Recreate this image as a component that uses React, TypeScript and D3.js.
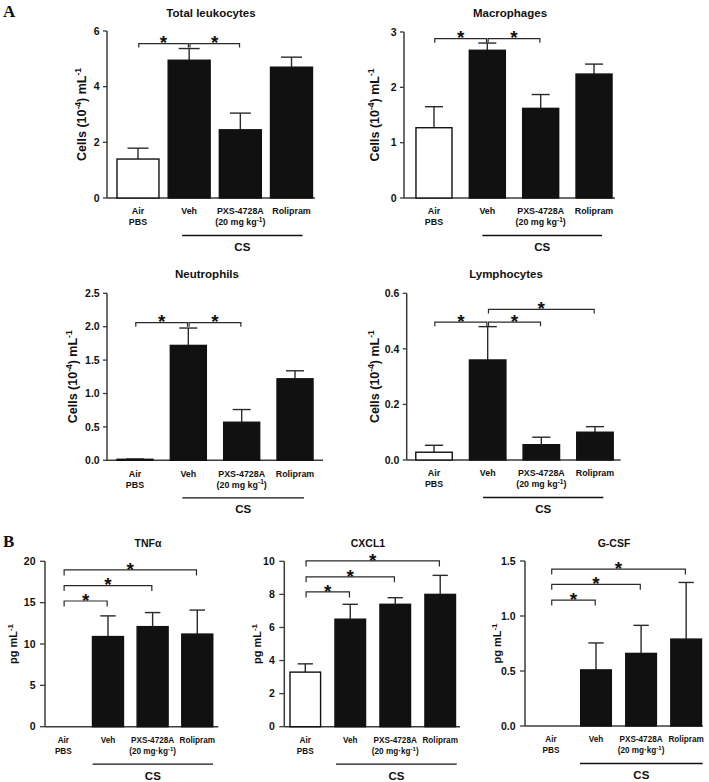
import React from "react";
import * as d3 from "d3";

// ---------- DATA ----------
const categoryKeys = ["Air PBS", "Veh", "PXS-4728A", "Rolipram"];
const categoryLinesA = [["Air", "PBS"], ["Veh"], ["PXS-4728A", "(20 mg kg|-1|)"], ["Rolipram"]];
const categoryLinesB = [["Air", "PBS"], ["Veh"], ["PXS-4728A", "(20 mg·kg|-1|)"], ["Rolipram"]];
const barIsOpen = [true, false, false, false];

const leukocytesMean = [1.4, 4.95, 2.45, 4.7];
const leukocytesSem = [0.39, 0.42, 0.6, 0.36];
const leukocytesTicks = [0, 2, 4, 6];
const leukocytesSig: [number, number, number][] = [[0, 1, 5.55], [1, 2, 5.55]];

const macrophagesMean = [1.27, 2.67, 1.62, 2.24];
const macrophagesSem = [0.38, 0.13, 0.25, 0.18];
const macrophagesTicks = [0, 1, 2, 3];
const macrophagesSig: [number, number, number][] = [[0, 1, 2.88], [1, 2, 2.88]];

const neutrophilsMean = [0.015, 1.72, 0.57, 1.22];
const neutrophilsSem = [0.004, 0.26, 0.19, 0.12];
const neutrophilsTicks = [0, 0.5, 1.0, 1.5, 2.0, 2.5];
const neutrophilsSig: [number, number, number][] = [[0, 1, 2.06], [1, 2, 2.06]];

const lymphocytesMean = [0.028, 0.36, 0.055, 0.1];
const lymphocytesSem = [0.025, 0.12, 0.027, 0.02];
const lymphocytesTicks = [0, 0.2, 0.4, 0.6];
const lymphocytesSig: [number, number, number][] = [[0, 1, 0.496], [1, 2, 0.496], [1, 3, 0.542]];

const tnfMean = [0, 10.9, 12.1, 11.2];
const tnfSem = [0, 2.5, 1.7, 2.9];
const tnfTicks = [0, 5, 10, 15, 20];
const tnfSig: [number, number, number][] = [[0, 1, 15.2], [0, 2, 17.06], [0, 3, 18.96]];

const cxcl1Mean = [3.3, 6.5, 7.4, 8.0];
const cxcl1Sem = [0.5, 0.9, 0.4, 1.15];
const cxcl1Ticks = [0, 2, 4, 6, 8, 10];
const cxcl1Sig: [number, number, number][] = [[0, 1, 8.15], [0, 2, 9.06], [0, 3, 10.02]];

const gcsfMean = [0, 0.51, 0.66, 0.79];
const gcsfSem = [0, 0.245, 0.255, 0.515];
const gcsfTicks = [0, 0.5, 1.0, 1.5];
const gcsfSig: [number, number, number][] = [[0, 1, 1.145], [0, 2, 1.288], [0, 3, 1.427]];

// ---------- LAYOUT ----------
const FONT = "'Liberation Sans', Arial, Helvetica, sans-serif";
const INK = "#111";
const AXIS = "#3c3c3c";

interface Cfg {
  title: string;
  titleX: number;
  titleY: number;
  titleSize: number;
  mean: number[];
  sem: number[];
  ticks: number[];
  fmt: string;
  sig: [number, number, number][];
  axisX: number;
  xEnd: number;
  y0: number;
  y1: number;
  band: [number, number];
  pad: number;
  yLabel: "cells" | "pg";
  yLabelX: number;
  lines: string[][];
  catSize: number;
  tickLen: number;
  tickGap: number;
  csL: number;
  csR: number;
  bracketTick: number;
}

function SupText({ s, size, supSize }: { s: string; size: number; supSize: number }) {
  // segments separated by | ; odd segments are superscripts
  const parts = s.split("|");
  const out: React.ReactNode[] = [];
  let up = false;
  parts.forEach((p, i) => {
    if (p === "") return;
    const isSup = i % 2 === 1;
    let dy = 0;
    if (isSup && !up) { dy = -size * 0.38; up = true; }
    else if (!isSup && up) { dy = size * 0.38; up = false; }
    out.push(
      <tspan key={i} dy={dy} fontSize={isSup ? supSize : size}>{p}</tspan>
    );
  });
  return <>{out}</>;
}

function Panel({ c }: { c: Cfg }) {
  const x = d3.scaleBand<string>().domain(categoryKeys).range(c.band).paddingInner(c.pad).paddingOuter(c.pad / 2);
  const y = d3.scaleLinear().domain([0, c.ticks[c.ticks.length - 1]]).range([c.y0, c.y1]);
  const bw = x.bandwidth();
  const cx = (i: number) => (x(categoryKeys[i]) as number) + bw / 2;
  const fmt = d3.format(c.fmt);
  const yMid = (c.y0 + c.y1) / 2;
  const yLabelSize = c.yLabel === "cells" ? 12.5 : 11;
  const catSize = c.catSize;
  return (
    <g fontFamily={FONT} fontWeight="bold">
      <text x={c.titleX} y={c.titleY} textAnchor="middle" fontSize={c.titleSize} fill={INK}>{c.title}</text>
      {/* y label */}
      <text transform={`translate(${c.yLabelX + yLabelSize * 0.36},${yMid}) rotate(-90)`} textAnchor="middle" fontSize={yLabelSize} fill={INK}>
        {c.yLabel === "cells"
          ? <SupText s={"Cells (10|-4|) mL|-1|"} size={yLabelSize} supSize={8.5} />
          : <SupText s={"pg mL|-1|"} size={yLabelSize} supSize={8} />}
      </text>
      {/* axes */}
      <line x1={c.axisX} x2={c.axisX} y1={c.y0} y2={c.y1} stroke={AXIS} strokeWidth={1.5} />
      <line x1={c.axisX} x2={c.xEnd} y1={c.y0} y2={c.y0} stroke={AXIS} strokeWidth={1.5} />
      {c.ticks.map((t) => (
        <g key={t}>
          <line x1={c.axisX - c.tickLen} x2={c.axisX} y1={y(t)} y2={y(t)} stroke={AXIS} strokeWidth={1.3} />
          <text x={c.axisX - c.tickLen - c.tickGap} y={y(t)} dy="0.35em" textAnchor="end" fontSize={10.5} fill={INK}>{fmt(t)}</text>
        </g>
      ))}
      {/* bars */}
      {c.mean.map((m, i) =>
        m > 0 ? (
          <g key={i}>
            <line x1={cx(i)} x2={cx(i)} y1={y(m)} y2={y(m + c.sem[i])} stroke="#2a2a2a" strokeWidth={1.4} />
            <line x1={cx(i) - bw * 0.25} x2={cx(i) + bw * 0.25} y1={y(m + c.sem[i])} y2={y(m + c.sem[i])} stroke="#2a2a2a" strokeWidth={1.4} />
            <rect x={x(categoryKeys[i])} y={y(m)} width={bw} height={c.y0 - y(m)}
              fill={barIsOpen[i] ? "#fff" : "#111"} stroke="#111" strokeWidth={1.4} />
          </g>
        ) : null
      )}
      {/* significance brackets */}
      {c.sig.map(([a, b, lv], k) => {
        const ly = y(lv);
        const x1 = cx(a) + 0.8;
        const x2 = cx(b) - 0.8;
        return (
          <g key={k}>
            <path d={`M${x1},${ly + c.bracketTick}V${ly}H${x2}V${ly + c.bracketTick}`} fill="none" stroke="#2a2a2a" strokeWidth={1.2} />
            <text x={(x1 + x2) / 2} y={ly + 5.8} textAnchor="middle" fontSize={19} fill={INK}>*</text>
          </g>
        );
      })}
      {/* category labels */}
      {c.lines.map((ls, i) => (
        <text key={i} textAnchor="middle" fontSize={catSize} fill={INK}>
          {ls.map((l, j) => (
            <tspan key={j} x={cx(i)} y={c.y0 + 16.3 + j * 11}>
              <SupText s={l} size={catSize} supSize={catSize * 0.74} />
            </tspan>
          ))}
        </text>
      ))}
      <line x1={cx(1) + c.csL} x2={cx(3) + c.csR} y1={c.y0 + 37.5} y2={c.y0 + 37.5} stroke={INK} strokeWidth={1.3} />
      <text x={(cx(1) + c.csL + cx(3) + c.csR) / 2} y={c.y0 + 53} textAnchor="middle" fontSize={11.5} fill={INK}>CS</text>
    </g>
  );
}

const panels: Cfg[] = [
  {
    title: "Total leukocytes", titleX: 211, titleY: 16.5, titleSize: 11.5,
    mean: leukocytesMean, sem: leukocytesSem, ticks: leukocytesTicks, fmt: "d", sig: leukocytesSig,
    axisX: 107, xEnd: 315, y0: 198, y1: 31, band: [112.4, 317.1], pad: 0.18,
    yLabel: "cells", yLabelX: 81, lines: categoryLinesA, catSize: 8.9, tickLen: 4, tickGap: 3.3, csL: -7, csR: 11, bracketTick: 4,
  },
  {
    title: "Macrophages", titleX: 510, titleY: 16.5, titleSize: 11.5,
    mean: macrophagesMean, sem: macrophagesSem, ticks: macrophagesTicks, fmt: "d", sig: macrophagesSig,
    axisX: 404, xEnd: 615, y0: 198, y1: 32, band: [407.3, 620.7], pad: 0.325,
    yLabel: "cells", yLabelX: 374, lines: categoryLinesA, catSize: 8.9, tickLen: 4, tickGap: 3.3, csL: -5, csR: 8, bracketTick: 4,
  },
  {
    title: "Neutrophils", titleX: 207, titleY: 277.5, titleSize: 11.5,
    mean: neutrophilsMean, sem: neutrophilsSem, ticks: neutrophilsTicks, fmt: ".1f", sig: neutrophilsSig,
    axisX: 107, xEnd: 323, y0: 460.3, y1: 293.3, band: [108.3, 321.7], pad: 0.325,
    yLabel: "cells", yLabelX: 72.5, lines: categoryLinesA, catSize: 8.9, tickLen: 4, tickGap: 3.3, csL: -6, csR: 9, bracketTick: 4,
  },
  {
    title: "Lymphocytes", titleX: 506, titleY: 277.5, titleSize: 11.5,
    mean: lymphocytesMean, sem: lymphocytesSem, ticks: lymphocytesTicks, fmt: ".1f", sig: lymphocytesSig,
    axisX: 406.7, xEnd: 620.7, y0: 460, y1: 293.3, band: [407.2, 621.8], pad: 0.32,
    yLabel: "cells", yLabelX: 374, lines: categoryLinesA, catSize: 8.9, tickLen: 4, tickGap: 3.3, csL: -4.6, csR: 8.3, bracketTick: 4,
  },
  {
    title: "TNFα", titleX: 148, titleY: 546.5, titleSize: 10.5,
    mean: tnfMean, sem: tnfSem, ticks: tnfTicks, fmt: "d", sig: tnfSig,
    axisX: 45, xEnd: 218.3, y0: 726.7, y1: 561.3, band: [41, 219.6], pad: 0.306,
    yLabel: "pg", yLabelX: 13, lines: categoryLinesB, catSize: 8.2, tickLen: 5, tickGap: 4.5, csL: -15.3, csR: 15.7, bracketTick: 5.5,
  },
  {
    title: "CXCL1", titleX: 368, titleY: 546.5, titleSize: 10.5,
    mean: cxcl1Mean, sem: cxcl1Sem, ticks: cxcl1Ticks, fmt: "d", sig: cxcl1Sig,
    axisX: 284.3, xEnd: 460, y0: 726.7, y1: 561.3, band: [282.8, 462.7], pad: 0.32,
    yLabel: "pg", yLabelX: 257.5, lines: categoryLinesB, catSize: 8.2, tickLen: 5, tickGap: 4.5, csL: -14.2, csR: 16.5, bracketTick: 5.5,
  },
  {
    title: "G-CSF", titleX: 614, titleY: 546.5, titleSize: 10.5,
    mean: gcsfMean, sem: gcsfSem, ticks: gcsfTicks, fmt: ".1f", sig: gcsfSig,
    axisX: 525, xEnd: 703, y0: 726, y1: 561, band: [528.4, 708.7], pad: 0.32,
    yLabel: "pg", yLabelX: 497.5, lines: categoryLinesB, catSize: 8.2, tickLen: 5, tickGap: 4.5, csL: -16, csR: 16.5, bracketTick: 5.5,
  },
];

export default function App() {
  return (
    <svg width={709} height={782} viewBox="0 0 709 782" style={{ position: "absolute", left: 0, top: 0, background: "#fff" }}>
      <rect width={709} height={782} fill="#fff" />
      <text x={3} y={17} fontFamily="'Liberation Serif', 'Times New Roman', serif" fontWeight="bold" fontSize={17} fill={INK}>A</text>
      <text x={3} y={546.5} fontFamily="'Liberation Serif', 'Times New Roman', serif" fontWeight="bold" fontSize={17} fill={INK}>B</text>
      {panels.map((p, i) => <Panel key={i} c={p} />)}
    </svg>
  );
}
